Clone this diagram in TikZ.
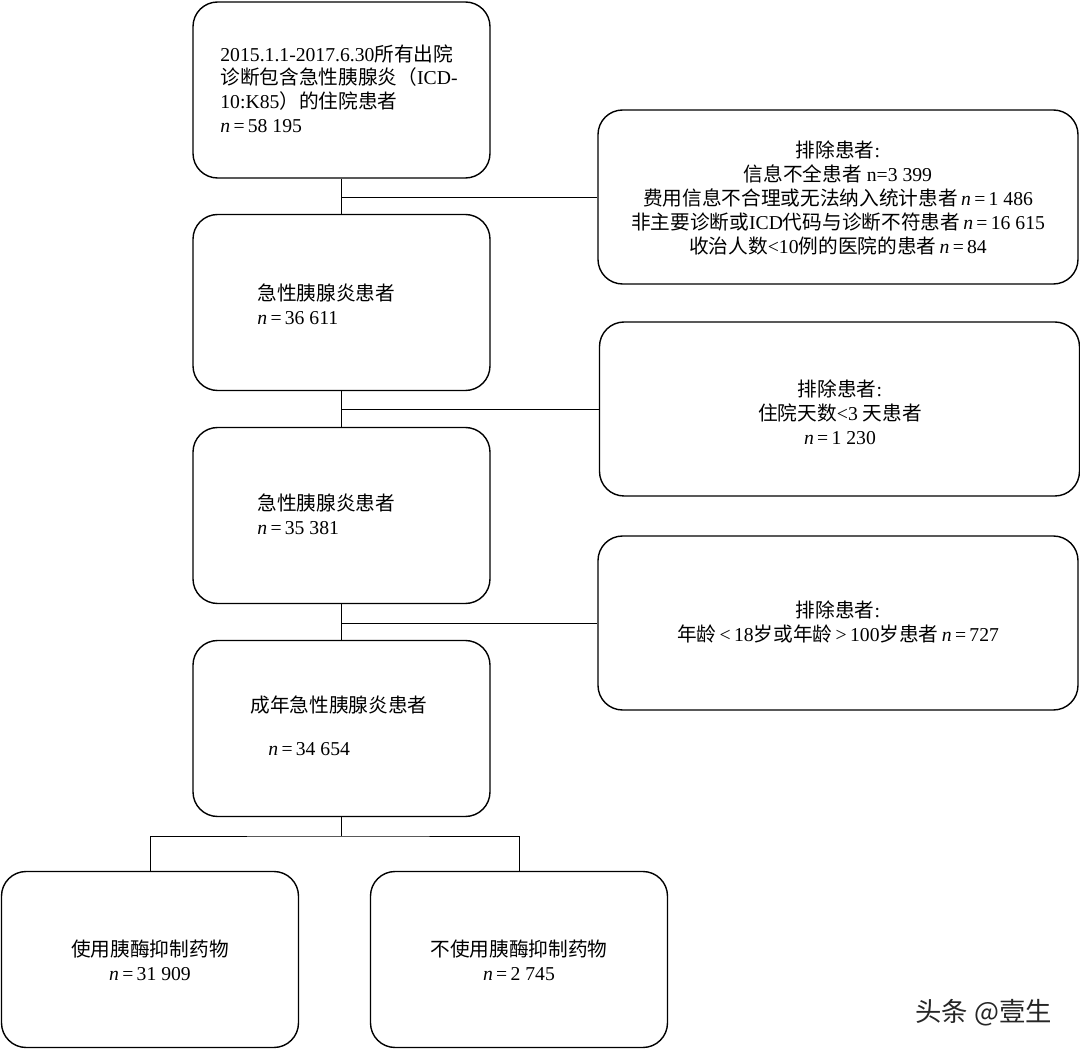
\documentclass[tikz,border=0pt]{standalone}
\usepackage{fontspec}
\setmainfont{Liberation Serif}
\newfontfamily\cjk{Noto Sans CJK SC}
\newcommand{\zh}[1]{{\cjk #1}}
\usetikzlibrary{positioning}
\tikzset{
  flowbox/.style={draw, rounded corners=14pt, line width=0.8pt, minimum width=297*0.02cm, minimum height=176*0.02cm},
  exclbox/.style={draw, rounded corners=14pt, line width=0.8pt, minimum width=480*0.02cm, minimum height=174*0.02cm},
  txt/.style={font=\fontsize{11.2}{13.6}\selectfont, align=left, inner sep=0pt},
  ctxt/.style={font=\fontsize{11.2}{13.6}\selectfont, align=center, inner sep=0pt},
}
\begin{document}
\begin{tikzpicture}[x=0.02cm, y=-0.02cm, line width=0.45pt]
	\useasboundingbox (0,0) rectangle (1080,1050);
	% main column
	\node[flowbox] (all) at (341.5, 90) {};
	\node[flowbox] (ap1) at (341.5, 302.5) {};
	\node[flowbox] (ap2) at (341.5, 515.5) {};
	\node[flowbox] (adult) at (341.5, 728.5) {};
	\node[flowbox] (use) at (150, 959.5) {};
	\node[flowbox] (nouse) at (519, 959.5) {};
	% exclusions
	\node[exclbox] (ex1) at (838, 197) {};
	\node[exclbox] (ex2) at (839.5, 409) {};
	\node[exclbox] (ex3) at (838, 623) {};
	
	\node[txt, anchor=north west] at (220, 44) {2015.1.1-2017.6.30\zh{所有出院}\\\zh{诊断包含急性胰腺炎（}ICD-\\10:K85\zh{）的住院患者}\\\textit{n}\,=\,58 195};
	\node[txt, anchor=north west] at (257, 284) {\zh{急性胰腺炎患者}\\\textit{n}\,=\,36 611};
	\node[txt, anchor=north west] at (257, 494) {\zh{急性胰腺炎患者}\\\textit{n}\,=\,35 381};
	\node[txt, anchor=north west] at (250, 695) {\zh{成年急性胰腺炎患者}};
	\node[txt, anchor=north west] at (268, 742) {\textit{n}\,=\,34 654};
	\node[ctxt] at (150, 960) {\zh{使用胰酶抑制药物}\\\textit{n}\,=\,31 909};
	\node[ctxt] at (519, 960) {\zh{不使用胰酶抑制药物}\\\textit{n}\,=\,2 745};
	\node[ctxt] at (838, 198) {\zh{排除患者}:\\\zh{信息不全患者} n=3 399\\\zh{费用信息不合理或无法纳入统计患者}\,\textit{n}\,=\,1 486\\\zh{非主要诊断或}ICD\zh{代码与诊断不符患者}\,\textit{n}\,=\,16 615\\\zh{收治人数}<10\zh{例的医院的患者}\,\textit{n}\,=\,84};
	\node[ctxt] at (840, 412) {\zh{排除患者}:\\\zh{住院天数}<3 \zh{天患者}\\\textit{n}\,=\,1 230};
	\node[ctxt] at (838, 622) {\zh{排除患者}:\\\zh{年龄}\,<\,18\zh{岁或年龄}\,>\,100\zh{岁患者}\,\textit{n}\,=\,727};
	
	% connectors
	\draw (all.south) -- (ap1.north);
	\draw (ap1.south) -- (ap2.north);
	\draw (ap2.south) -- (adult.north);
	\draw (341.5, 197) -- (ex1.west);
	\draw (341.5, 409) -- (ex2.west);
	\draw (341.5, 623) -- (ex3.west);
	\coordinate (fork) at (341.5, 836);
	\draw (adult.south) -- (fork);
	\draw (use.north) |- (fork) -| (nouse.north);
	
	\node[font=\cjk\fontsize{15}{17}\selectfont, anchor=east, text=black!85] (mark) at (1058, 1013) {头条 @壹生};
\end{tikzpicture}
\end{document}
